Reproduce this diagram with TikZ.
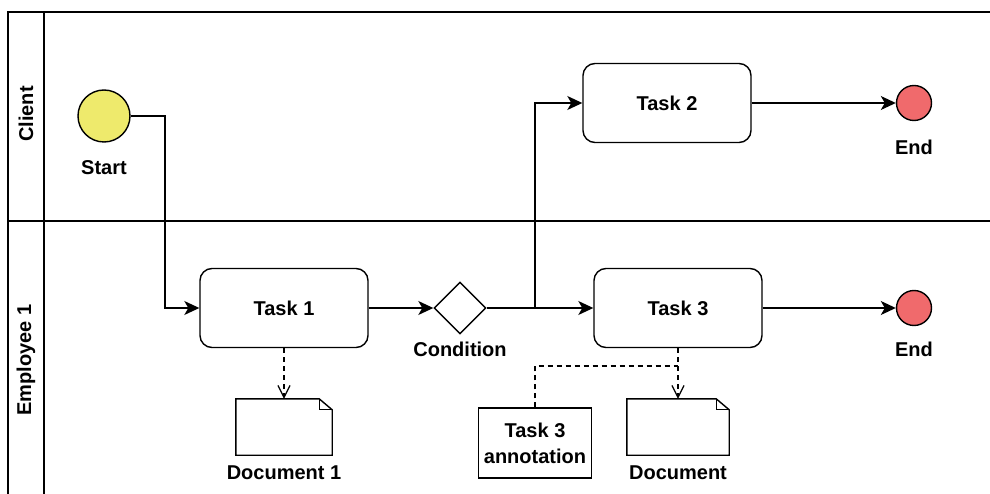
\documentclass[tikz,border=0pt]{standalone}
\usepackage{fontspec}
\setmainfont{Liberation Sans}
\usepackage{xcolor}
\usetikzlibrary{arrows.meta,shapes.geometric}

\definecolor{startyellow}{RGB}{238,234,108}
\definecolor{endred}{RGB}{240,106,108}

\tikzset{
  txt/.style={font=\fontsize{20}{26}\selectfont\bfseries},
  task/.style={txt, draw, line width=1.4pt, rounded corners=12pt, minimum width=168pt, minimum height=79pt, inner sep=0pt},
  event/.style={circle, draw, line width=1.4pt, inner sep=0pt},
  gateway/.style={diamond, draw, line width=1.4pt, minimum width=52pt, minimum height=52pt, inner sep=0pt},
  docnode/.style={minimum height=56pt, inner sep=0pt},
  note/.style={txt, draw, line width=1.3pt, minimum width=113pt, minimum height=70pt, inner sep=0pt, align=center},
  flow/.style={line width=1.3pt, -{Stealth[length=15pt,width=14pt,inset=4pt]}},
  assoc/.style={line width=1.2pt, dash pattern=on 5pt off 4pt},
  lane/.style={line width=1.3pt}
}

\begin{document}
\begin{tikzpicture}[x=1pt,y=-1pt]
      \clip (0,0) rectangle (990,494);
      % pool and lanes
      \draw [lane] (990,12) -- (8,12) -- (8,494);
      \draw [lane] (44,12) -- (44,494);
      \draw [lane] (8,221) -- (990,221);
      \node [txt, rotate=90] (clientlane) at (26,114) {Client};
      \node [txt, rotate=90] (employeelane) at (26,360) {Employee 1};
      % events and tasks
      \node [event, fill=startyellow, minimum size=52pt] (start) at (104,116) {};
      \node [txt] (startlbl) at (104,168) {Start};
      \node [task] (task1) at (284,308) {Task 1};
      \node [gateway] (gate) at (460,308) {};
      \node [txt] (gatelbl) at (460,349) {Condition};
      \node [task] (task2) at (667,103) {Task 2};
      \node [task] (task3) at (678,308) {Task 3};
      \node [event, fill=endred, minimum size=35pt] (end1) at (914,103) {};
      \node [txt] (end1lbl) at (914,147) {End};
      \node [event, fill=endred, minimum size=35pt] (end2) at (914,308) {};
      \node [txt] (end2lbl) at (914,349) {End};
      % documents
      \node [docnode, minimum width=96pt] (doc1) at (284,427) {};
      \node [txt] (doc1lbl) at (284,473) {Document 1};
      \node [docnode, minimum width=102pt] (doc2) at (678,427) {};
      \node [txt] (doc2lbl) at (678,473) {Document};
      \foreach \d in {doc1,doc2} {
        \draw [line width=1.4pt] (\d.south west) -- (\d.north west) -- ([xshift=-13pt]\d.north east)
          -- ([yshift=-11pt]\d.north east) -- (\d.south east) -- cycle;
        \draw [line width=1.1pt] ([xshift=-13pt]\d.north east) -- ([xshift=-13pt,yshift=-11pt]\d.north east)
          -- ([yshift=-11pt]\d.north east);
      }
      \node [note] (note3) at (535,443) {Task 3\\annotation};
      % sequence flows
      \coordinate (bend1) at (165,116);
      \coordinate (split) at (535,308);
      \draw [flow] (start) -- (bend1) |- (task1);
      \draw [flow] (task1) -- (gate);
      \draw [flow] (gate) -- (task3);
      \draw [flow] (split) |- (task2);
      \draw [flow] (task2) -- (end1);
      \draw [flow] (task3) -- (end2);
      % associations
      \coordinate (join3) at (678,366);
      \draw [assoc, -{Straight Barb[length=12pt,width=12pt]}] (task1) -- (doc1);
      \draw [assoc, -{Straight Barb[length=12pt,width=12pt]}] (task3) -- (doc2);
      \draw [assoc] (note3.north) |- (join3);
\end{tikzpicture}
\end{document}
